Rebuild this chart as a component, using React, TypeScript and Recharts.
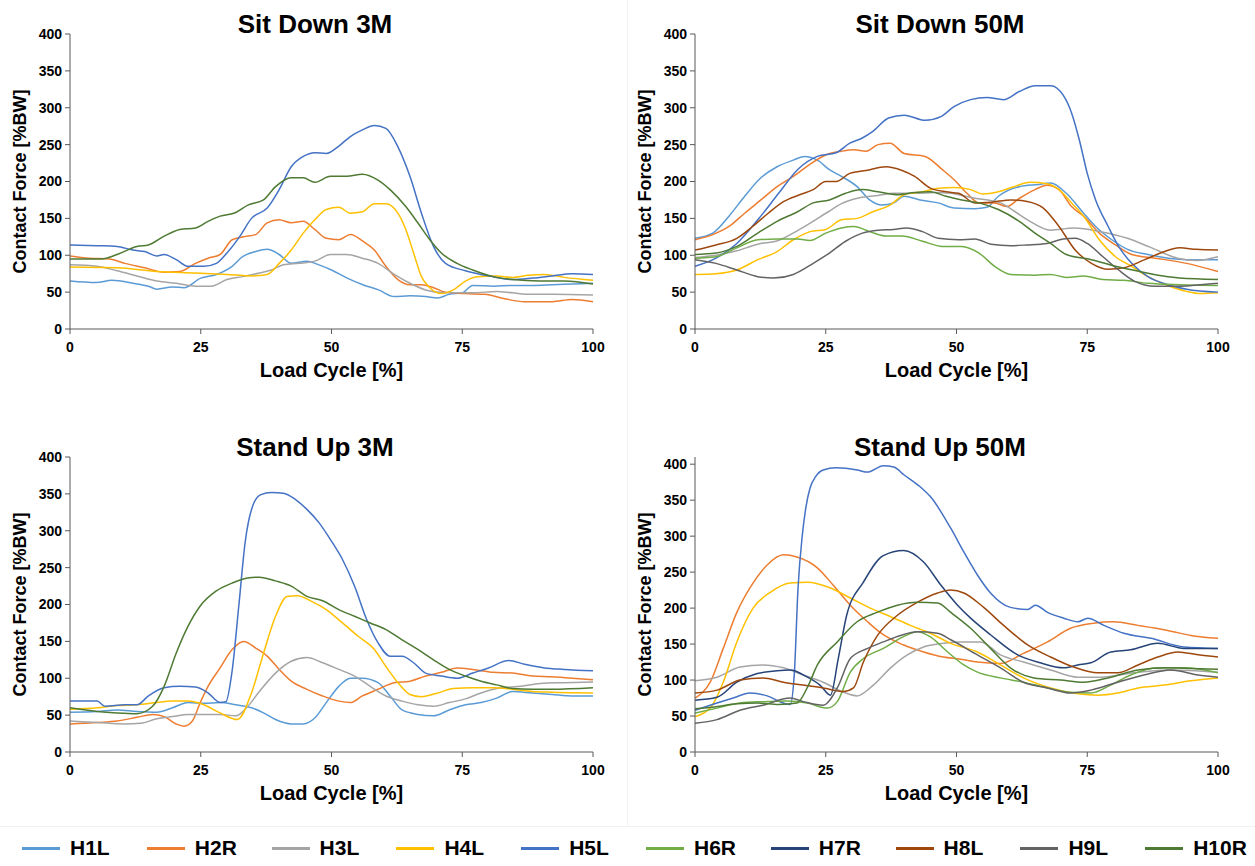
import { Line, LineChart, XAxis, YAxis } from "recharts";

const FONT = '"Liberation Sans", Arial, sans-serif';

const cycleTicks = [0, 25, 50, 75, 100];
const forceTicks = [0, 50, 100, 150, 200, 250, 300, 350, 400];

const hipLabels = ["H1L", "H2R", "H3L", "H4L", "H5L", "H6R", "H7R", "H8L", "H9L", "H10R"];
const hipColors = [
  "#5B9BD5",
  "#ED7D31",
  "#A5A5A5",
  "#FFC000",
  "#4472C4",
  "#70AD47",
  "#264478",
  "#9E480E",
  "#636363",
  "#4E7A33",
];

// Sit Down 3M  [load cycle %, contact force %BW]
const sd3H1L = [[0,65],[5,63],[8,66],[12,62],[15,58],[16.6,54],[19.6,57],[21.8,56],[25,69],[28,74],[31,85],[33,98],[35.5,105],[37.7,108],[40,101],[42.3,89],[45.3,92],[47.6,87],[50,80],[53,69],[56,60],[59,53],[62,44],[65,45],[68,44],[70.3,42],[72.5,47],[75,49],[77,59],[81,58],[84.6,59],[88.4,59],[92.2,60],[96,61],[100,62]];
const sd3H2R = [[0,99],[3.7,96],[7.5,95],[10.5,89],[14.3,83],[18,77],[21,78],[24,89],[26.4,96],[28.7,101],[31,121],[33.2,125],[35.5,128],[37.7,144],[40,148],[42.3,144],[44.6,146],[46.8,135],[49,123],[51.4,121],[53.6,128],[56,119],[58.2,107],[60.4,85],[62.7,67],[65,60],[67.2,60],[69.5,56],[71.8,50],[75.6,48],[79.3,47],[83.1,41],[86.9,37],[92.2,37],[96,40],[100,37]];
const sd3H3L = [[0,87],[5.2,85],[9,79],[12.8,72],[16.6,65],[20.3,62],[24,58],[27,58],[30,67],[33,71],[36.2,76],[38.5,80],[40.8,87],[43.8,89],[46.8,92],[49.8,101],[52.9,101],[55.9,96],[58.9,89],[62,74],[65,62],[68,53],[71.8,49],[77,49],[81.6,51],[84.6,49],[88.4,47],[92.2,47],[100,46]];
const sd3H4L = [[0,84],[9,83],[16.6,78],[24,76],[30,74],[34.7,72],[37.7,74],[40,89],[42.3,107],[44.6,130],[46.8,148],[49,162],[51.4,165],[53.6,157],[55.9,159],[58.2,170],[60.4,170],[62.7,157],[64.2,135],[65.7,103],[67.2,71],[68.8,56],[71,48],[73.3,53],[75.6,65],[77.8,71],[81.6,72],[84.6,70],[87.7,73],[90.7,74],[94.5,70],[100,66]];
const sd3H5L = [[0,114],[5.2,113],[9,112],[12,107],[14.3,105],[16.6,99],[18,101],[20.3,94],[22.6,85],[25.6,85],[28,89],[30,103],[32.5,126],[34.7,150],[37.7,164],[40,189],[42.3,220],[44.6,234],[46.8,239],[49,238],[51.4,248],[53.6,261],[55.9,270],[58.2,276],[60.4,272],[62.7,247],[65,207],[67.2,157],[69.5,112],[71.8,89],[75.6,79],[80.9,71],[84.6,67],[88.4,69],[92.2,72],[96,75],[100,74]];
const sd3H10R = [[0,95],[6,95],[9,101],[12.8,112],[15,114],[18,126],[21,135],[24,137],[26.4,146],[28.7,153],[31.7,158],[34,168],[37,175],[39.3,193],[42.3,205],[44.6,205],[46.8,199],[49.8,207],[52.9,207],[55.9,210],[58.9,202],[61.2,189],[64.2,166],[66.5,144],[68.8,121],[71,103],[74,89],[77,80],[80.9,71],[84.6,67],[89.9,65],[94.5,65],[100,61]];

// Sit Down 50M
const sd50H1L = [[0,123],[3.4,130],[6.5,153],[9.5,180],[12.6,205],[15.7,220],[18.8,229],[21,234],[23.4,229],[25.7,216],[28,207],[31,193],[33.4,175],[35.7,168],[38,171],[40,180],[43,175],[46.5,171],[49.6,164],[53.5,163],[55.8,165],[58,180],[62,193],[65.8,196],[68,198],[71,184],[74.3,157],[76.6,139],[79.7,121],[82.7,108],[86.6,101],[94,94],[100,94]];
const sd50H2R = [[0,121],[3.4,128],[6.5,139],[9.5,157],[12.6,175],[15.7,193],[18.8,207],[21.9,223],[25,236],[28,241],[30.4,243],[32.7,241],[35,250],[37.3,252],[40,238],[44,234],[47.3,216],[49.6,202],[52,184],[54.3,171],[57.3,171],[59.6,166],[62,177],[65,189],[67.3,195],[69.6,189],[72,166],[74.3,153],[77.3,130],[80.4,114],[83.5,101],[88,96],[94,89],[100,78]];
const sd50H3L = [[0,97],[4,100],[8,106],[12,115],[15.9,120],[20,135],[25.5,159],[28,170],[31.5,178],[35,181],[38,184],[42,184],[46,185],[48.9,184],[53,178],[58.4,171],[61,160],[63.6,148],[68,134],[72.4,137],[77.6,132],[82.7,123],[87,111],[92.3,96],[96,93],[100,98]];
const sd50H4L = [[0,74],[4,75],[8,80],[12,94],[15.7,105],[18.8,121],[22,132],[25,135],[28,148],[31,150],[34,159],[37.3,168],[40,182],[43.5,186],[46.5,191],[49.6,192],[52.7,189],[55,183],[58,186],[61,193],[64,199],[67.3,197],[69.6,189],[72,171],[74.3,153],[77.3,121],[80.4,98],[83.5,85],[86.6,71],[90.4,59],[94,51],[96.6,48],[100,49]];
const sd50H5L = [[0,85],[4,96],[8,116],[12,148],[16,184],[19.6,216],[23.4,234],[27,239],[29.6,252],[32,259],[34,268],[37,286],[40,290],[44,283],[47,288],[49.6,302],[52.7,311],[55.8,314],[59,311],[62,322],[65,330],[68,330],[70.4,317],[72,293],[73.5,256],[75,211],[76.6,175],[79,139],[81,112],[83.5,89],[86.6,71],[90.4,60],[94,54],[100,50]];
const sd50H6R = [[0,96],[4,98],[8,110],[12,121],[15.7,122],[19.6,122],[22,120],[25,130],[28,137],[30.4,139],[33.4,132],[36.5,126],[39.6,126],[43.5,119],[47.3,112],[51,112],[54.3,103],[57.3,85],[60.4,74],[65,73],[68,74],[71,70],[74.3,72],[78,67],[82,66],[86.6,62],[92.7,60],[100,59]];
const sd50H8L = [[0,107],[4,114],[8,123],[11,139],[14,157],[17,173],[20,182],[22.6,189],[25,200],[27,200],[29.6,211],[32.7,215],[36.5,220],[39.6,215],[42,207],[45,191],[48,186],[50.4,184],[53.5,171],[56.6,172],[60.4,175],[63.5,173],[66.6,164],[69.6,139],[72.7,107],[75.8,89],[79,81],[82,83],[86,94],[89,103],[92.7,110],[95.8,108],[100,107]];
const sd50H9L = [[0,94],[4,89],[8,80],[12,71],[15,69],[18.8,74],[22.6,89],[25.7,103],[28.8,119],[32,130],[35,134],[38,135],[40.4,137],[43.5,132],[46.5,123],[50.4,121],[53.5,122],[56.6,115],[60.4,113],[63.5,114],[67.3,116],[70.4,122],[72.7,123],[75,116],[78,98],[81,80],[84,65],[88,58],[92.7,58],[96.6,60],[100,62]];
const sd50H10R = [[0,101],[4,103],[8,112],[12,130],[15.7,146],[19.6,159],[22.6,171],[25.7,175],[28.8,184],[32,189],[35,186],[38.8,182],[42,185],[45,186],[48,180],[51,175],[54.3,171],[58,162],[62,146],[65,130],[68,116],[71,101],[75.8,94],[80.4,85],[85,78],[90.4,71],[95.8,68],[100,67]];

// Stand Up 3M
const su3H1L = [[0,54],[5.2,55],[9,57],[12.8,55],[16.6,54],[19.6,60],[22.6,67],[25.6,66],[28.7,67],[31.7,64],[34.7,60],[37,53],[39.3,44],[42.3,38],[44.6,38],[46.8,46],[49,67],[51.4,89],[53.6,100],[55.9,100],[58.9,94],[61.2,76],[63.5,57],[66.5,51],[69.5,49],[72.5,57],[75.6,64],[78.6,67],[81.6,73],[84.6,82],[88.4,80],[92.2,78],[96,76],[100,76]];
const su3H2R = [[0,38],[5.2,40],[9,42],[12.8,47],[15.8,51],[18,48],[20.3,38],[21.8,35],[23.4,42],[24.9,67],[26.4,89],[28.7,114],[31,139],[33.2,150],[35.5,141],[37.7,130],[40,112],[42.3,96],[45.3,85],[48.3,76],[51.4,69],[53.6,67],[55.9,76],[58.9,85],[62,94],[65,96],[68,103],[71,108],[74,114],[77,112],[80.9,108],[84.6,107],[88.4,103],[92.2,102],[96,100],[100,98]];
const su3H3L = [[0,42],[5.2,40],[10.5,38],[13.5,39],[16.6,45],[19.6,48],[22.6,51],[25.6,51],[28.7,51],[31.7,49],[34,62],[36.2,82],[39.3,107],[42.3,123],[45.3,128],[48.3,121],[51.4,112],[54.4,103],[57.4,89],[60.4,76],[63.5,69],[66.5,64],[69.5,62],[72.5,67],[75.6,72],[78.6,80],[82.4,87],[86.2,89],[89.9,93],[94.5,94],[100,95]];
const su3H4L = [[0,58],[5.2,60],[9,63],[12.8,64],[16.6,67],[19.6,69],[22.6,69],[25.6,64],[28.7,53],[32,44],[34.7,80],[37,134],[39.3,184],[41.5,211],[43.5,212],[46,205],[49,193],[52.1,175],[55.1,157],[58.2,139],[60.4,116],[62.7,94],[65,78],[67.2,75],[70.3,80],[73.3,86],[77,87],[80.9,87],[84.6,85],[88.4,82],[92.2,81],[100,80]];
const su3H5L = [[0,69],[5.2,69],[6.7,62],[10.5,64],[12.8,64],[15,76],[18,87],[21,89],[24,88],[26.4,80],[28.7,67],[29.8,68],[31,110],[32.3,200],[33.5,285],[35,335],[36.5,349],[38.5,352],[40.8,351],[43,343],[45.3,329],[47.6,311],[49.8,288],[52.1,261],[54.4,225],[56.7,180],[58.9,148],[61.2,130],[63.5,130],[65.7,121],[68,107],[71,103],[74,100],[77,107],[80,114],[83.9,124],[86.9,119],[90.7,114],[94.5,112],[100,110]];
const su3H10R = [[0,60],[5.2,55],[9,53],[12.8,52],[15.8,62],[18,89],[20.3,134],[22.6,171],[24.9,198],[27.9,218],[31,229],[34,236],[36.2,237],[39.3,232],[42.3,225],[45.3,211],[48.3,205],[51.4,193],[54.4,184],[57.4,175],[60.4,166],[63.5,152],[66.5,139],[69.5,125],[72.5,112],[75.6,103],[78.6,96],[81.6,91],[84.6,86],[88.4,85],[92.2,85],[100,87]];

// Stand Up 50M
const su50H2R = [[0,75],[2.9,97],[5.4,144],[8,194],[10.5,228],[13.8,260],[16.9,274],[19.5,271],[23.4,256],[26.4,232],[29.7,204],[33,181],[36,163],[39.8,149],[43.7,139],[47.5,132],[50.8,129],[54,125],[58.4,123],[62.8,137],[67.4,153],[71.8,172],[76.2,179],[80,181],[84.7,176],[90.4,169],[94.8,162],[100,158]];
const su50H3L = [[0,99],[4.2,104],[8.6,118],[13,121],[16.9,117],[20.7,107],[24.5,97],[28.4,83],[31,78],[34.1,93],[37.4,117],[40.6,135],[43.7,146],[47.5,151],[50.8,153],[54.6,153],[58.4,135],[62.8,125],[68,114],[73.2,104],[77.6,104],[83.9,110],[90.4,114],[100,111]];
const su50H4L = [[0,49],[2.9,61],[5.4,97],[8,153],[11.1,200],[14.4,222],[18.2,235],[21.5,236],[25.9,228],[29.7,214],[33.5,200],[37.4,188],[41.2,176],[45,165],[48.9,151],[54,139],[58.4,121],[62.8,103],[68,89],[73.2,81],[77,79],[80.8,82],[84.7,89],[89.7,93],[94.8,99],[100,103]];
const su50H5L = [[0,58],[4.2,68],[7.3,75],[10.5,82],[13.8,78],[16.9,68],[18.2,66],[19,110],[19.7,228],[20.5,300],[21.2,340],[22,367],[23,382],[24.5,392],[27,395],[31,392],[33,389],[36,398],[38,396],[40,385],[43,369],[45,355],[48.9,311],[51.4,278],[54,246],[56.5,221],[60.3,201],[63.6,198],[65.1,204],[67.4,194],[70.5,186],[73.2,181],[75.1,186],[78.2,176],[82,165],[87.2,158],[93.5,146],[100,144]];
const su50H6R = [[0,54],[4.2,61],[8.6,68],[13,70],[17.6,71],[21.5,68],[25.3,61],[27.2,70],[29.7,111],[32.2,130],[36,144],[39.8,160],[42.5,167],[45,160],[48.3,139],[51.4,121],[54,111],[58.4,103],[62.8,97],[67.4,89],[71.8,83],[75.7,82],[79.5,93],[83.3,107],[88.5,117],[93.5,117],[100,110]];
const su50H7R = [[0,72],[4.2,76],[8,97],[11.9,109],[15.7,113],[18.2,114],[21.5,104],[23.9,93],[25.9,79],[27.4,130],[29,190],[32.2,236],[36,273],[39.9,280],[43.7,264],[47,232],[50.2,204],[52.7,186],[56.5,163],[61.7,135],[66,124],[70.5,117],[73.2,121],[75.7,124],[79.5,139],[83.3,142],[88.5,151],[93.5,144],[100,144]];
const su50H8L = [[0,82],[4.2,86],[8.6,100],[13,103],[16.9,97],[20.7,93],[24.5,89],[28.4,84],[30.3,89],[32.2,125],[34.9,162],[38.7,190],[42.5,208],[46.4,221],[48.9,225],[51.4,221],[55.2,201],[59,176],[63.6,149],[68,132],[72.4,118],[77,110],[80.8,110],[84.7,121],[88.5,132],[92.3,139],[96.2,135],[100,132]];
const su50H9L = [[0,40],[4.2,45],[8.6,58],[13,65],[18.2,75],[20.7,70],[24.5,65],[27.2,89],[29.7,130],[33,144],[36,153],[39.3,162],[42.5,167],[46.4,165],[48.9,156],[54,135],[58.4,117],[62.8,97],[67.4,89],[71.8,82],[75.7,86],[80.8,97],[85.8,107],[91,114],[96.2,107],[100,104]];
const su50H10R = [[0,60],[4,63],[8,67],[12,68],[16,66],[19.5,68],[21.5,90],[23.4,121],[27.2,153],[31,181],[34.8,194],[38.7,204],[42.5,208],[46.4,207],[48.9,194],[52.7,172],[56.5,144],[60.3,117],[64.8,103],[69.9,100],[74.3,97],[79.5,104],[84.7,114],[90.4,117],[95,116],[100,115]];

type Curves = Record<string, number[][]>;

type PanelConfig = {
  title: string;
  left: number;
  top: number;
  yMax: number;
  curves: Curves;
};

const panels: PanelConfig[] = [
  {
    title: "Sit Down 3M",
    left: 0,
    top: 0,
    yMax: 400,
    curves: { H1L: sd3H1L, H2R: sd3H2R, H3L: sd3H3L, H4L: sd3H4L, H5L: sd3H5L, H10R: sd3H10R },
  },
  {
    title: "Sit Down 50M",
    left: 625,
    top: 0,
    yMax: 400,
    curves: {
      H1L: sd50H1L, H2R: sd50H2R, H3L: sd50H3L, H4L: sd50H4L, H5L: sd50H5L,
      H6R: sd50H6R, H8L: sd50H8L, H9L: sd50H9L, H10R: sd50H10R,
    },
  },
  {
    title: "Stand Up 3M",
    left: 0,
    top: 423,
    yMax: 400,
    curves: { H1L: su3H1L, H2R: su3H2R, H3L: su3H3L, H4L: su3H4L, H5L: su3H5L, H10R: su3H10R },
  },
  {
    title: "Stand Up 50M",
    left: 625,
    top: 423,
    yMax: 410,
    curves: {
      H2R: su50H2R, H3L: su50H3L, H4L: su50H4L, H5L: su50H5L, H6R: su50H6R,
      H7R: su50H7R, H8L: su50H8L, H9L: su50H9L, H10R: su50H10R,
    },
  },
];

const toRows = (pts: number[][]) => pts.map(([cycle, force]) => ({ cycle, force }));

const tickStyle = { fontSize: 14, fontWeight: 700, fill: "#000", fontFamily: FONT };

const ForcePanel = ({ title, left, top, yMax, curves }: PanelConfig) => (
  <div style={{ position: "absolute", left, top, width: 630, height: 400 }}>
    <div
      style={{
        position: "absolute",
        left: 0,
        top: 11,
        width: 630,
        textAlign: "center",
        fontFamily: FONT,
        fontWeight: 700,
        fontSize: 26,
        lineHeight: "26px",
        color: "#000",
      }}
    >
      {title}
    </div>
    <LineChart width={620} height={400} margin={{ top: 34, right: 27, bottom: 41, left: 8 }}>
      <XAxis
        type="number"
        dataKey="cycle"
        domain={[0, 100]}
        ticks={cycleTicks}
        interval={0}
        height={30}
        stroke="#595959"
        tickSize={5}
        tickMargin={8}
        tick={tickStyle}
        label={{
          value: "Load Cycle [%]",
          position: "bottom",
          offset: 4,
          fontSize: 20,
          fontWeight: 700,
          fill: "#000",
          fontFamily: FONT,
        }}
      />
      <YAxis
        type="number"
        domain={[0, yMax]}
        ticks={forceTicks}
        interval={0}
        width={62}
        stroke="#595959"
        tickSize={5}
        tickMargin={3}
        tick={tickStyle}
        label={{
          value: "Contact Force [%BW]",
          angle: -90,
          position: "insideLeft",
          offset: 12,
          fontSize: 18,
          fontWeight: 700,
          fill: "#000",
          fontFamily: FONT,
          style: { textAnchor: "middle" },
        }}
      />
      {hipLabels
        .filter((name) => curves[name])
        .map((name) => (
          <Line
            key={name}
            name={name}
            data={toRows(curves[name])}
            dataKey="force"
            type="monotone"
            stroke={hipColors[hipLabels.indexOf(name)]}
            strokeWidth={1.5}
            dot={false}
            activeDot={false}
            isAnimationActive={false}
          />
        ))}
    </LineChart>
  </div>
);

const HipLegend = () => (
  <div style={{ position: "absolute", left: 0, top: 834, width: 1255, height: 28 }}>
    {hipLabels.map((name, i) => (
      <div
        key={name}
        style={{
          position: "absolute",
          left: 22 + i * 124.8,
          top: 0,
          height: 28,
          display: "flex",
          alignItems: "center",
        }}
      >
        <span style={{ display: "inline-block", width: 38, height: 3, background: hipColors[i] }} />
        <span
          style={{
            marginLeft: 10,
            fontFamily: FONT,
            fontWeight: 700,
            fontSize: 21,
            color: "#000",
          }}
        >
          {name}
        </span>
      </div>
    ))}
  </div>
);

export default function App() {
  return (
    <div
      style={{
        position: "absolute",
        left: 0,
        top: 0,
        width: 1255,
        height: 866,
        background: "#fff",
        overflow: "hidden",
      }}
    >
      <div style={{ position: "absolute", left: 627, top: 0, width: 1, height: 826, background: "#f2f2f2" }} />
      <div style={{ position: "absolute", left: 0, top: 826, width: 1255, height: 1, background: "#f2f2f2" }} />
      {panels.map((p) => (
        <ForcePanel key={p.title} {...p} />
      ))}
      <HipLegend />
    </div>
  );
}
